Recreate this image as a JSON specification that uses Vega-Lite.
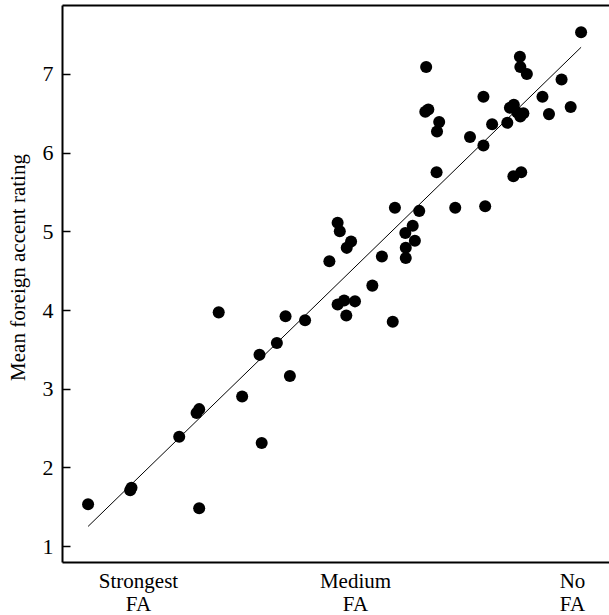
{
  "$schema": "https://vega.github.io/schema/vega-lite/v6.json",
  "width": 547,
  "height": 557,
  "autosize": {"type": "none"},
  "padding": {"left": 62, "top": 5, "right": 0, "bottom": 53},
  "background": "white",
  "config": {
    "view": {"stroke": null},
    "font": "Liberation Serif",
    "axis": {"grid": false, "domainColor": "black", "domainWidth": 2, "tickColor": "black", "labelColor": "black", "titleColor": "black", "labelFont": "Liberation Serif", "titleFont": "Liberation Serif"}
  },
  "data": {"values": [
    {"fa": -1.15, "rating": 1.53}, {"fa": -0.18, "rating": 1.71}, {"fa": -0.15, "rating": 1.74},
    {"fa": 1.41, "rating": 1.48}, {"fa": 0.95, "rating": 2.39}, {"fa": 1.35, "rating": 2.69},
    {"fa": 1.41, "rating": 2.74}, {"fa": 1.86, "rating": 3.97}, {"fa": 2.40, "rating": 2.90},
    {"fa": 2.85, "rating": 2.31}, {"fa": 2.80, "rating": 3.43}, {"fa": 3.20, "rating": 3.58},
    {"fa": 3.40, "rating": 3.92}, {"fa": 3.50, "rating": 3.16}, {"fa": 3.85, "rating": 3.87},
    {"fa": 4.60, "rating": 4.07}, {"fa": 4.75, "rating": 4.12}, {"fa": 5.00, "rating": 4.11},
    {"fa": 4.80, "rating": 3.93}, {"fa": 5.40, "rating": 4.31}, {"fa": 4.41, "rating": 4.62},
    {"fa": 5.87, "rating": 3.85}, {"fa": 4.60, "rating": 5.11}, {"fa": 4.65, "rating": 5.00},
    {"fa": 4.91, "rating": 4.87}, {"fa": 4.81, "rating": 4.79}, {"fa": 5.62, "rating": 4.68},
    {"fa": 5.92, "rating": 5.30}, {"fa": 6.48, "rating": 5.26}, {"fa": 6.33, "rating": 5.07},
    {"fa": 6.16, "rating": 4.98}, {"fa": 6.38, "rating": 4.88}, {"fa": 6.17, "rating": 4.79},
    {"fa": 6.17, "rating": 4.66}, {"fa": 7.31, "rating": 5.30}, {"fa": 8.00, "rating": 5.32},
    {"fa": 6.88, "rating": 5.75}, {"fa": 8.65, "rating": 5.70}, {"fa": 8.83, "rating": 5.75},
    {"fa": 7.65, "rating": 6.20}, {"fa": 7.96, "rating": 6.09}, {"fa": 6.89, "rating": 6.27},
    {"fa": 6.94, "rating": 6.39}, {"fa": 6.69, "rating": 6.55}, {"fa": 6.62, "rating": 6.52},
    {"fa": 8.16, "rating": 6.36}, {"fa": 8.51, "rating": 6.38}, {"fa": 6.64, "rating": 7.09},
    {"fa": 7.96, "rating": 6.71}, {"fa": 8.57, "rating": 6.57}, {"fa": 8.66, "rating": 6.61},
    {"fa": 8.74, "rating": 6.51}, {"fa": 8.88, "rating": 6.50}, {"fa": 8.81, "rating": 6.46},
    {"fa": 9.32, "rating": 6.71}, {"fa": 9.47, "rating": 6.49}, {"fa": 9.97, "rating": 6.58},
    {"fa": 9.76, "rating": 6.93}, {"fa": 8.80, "rating": 7.22}, {"fa": 8.81, "rating": 7.09},
    {"fa": 8.96, "rating": 7.00}, {"fa": 10.21, "rating": 7.53}
  ]},
  "layer": [
    {
      "mark": {"type": "circle", "size": 145, "opacity": 1, "color": "black"},
      "encoding": {
        "x": {
          "field": "fa", "type": "quantitative",
          "scale": {"domain": [-1.751, 10.853], "nice": false, "zero": false},
          "axis": {
            "orient": "bottom", "title": null, "values": [0, 5, 10], "ticks": false,
            "labelExpr": "datum.value == 0 ? ['Strongest', 'FA'] : datum.value == 5 ? ['Medium', 'FA'] : ['No', 'FA']",
            "labelFontSize": 21, "labelLineHeight": 23, "labelPadding": 8, "labelFlush": false, "labelOverlap": false, "labelAlign": "center", "labelBaseline": "top"
          }
        },
        "y": {
          "field": "rating", "type": "quantitative",
          "scale": {"domain": [0.797, 7.877], "nice": false, "zero": false},
          "axis": {
            "values": [1, 2, 3, 4, 5, 6, 7], "tickSize": -8, "tickWidth": 1.5,
            "labelFontSize": 22, "labelPadding": 17, "format": "d",
            "title": "Mean foreign accent rating", "titleFontSize": 21, "titleFontWeight": "normal",
            "titleX": -38, "titleY": 262, "titleBaseline": "alphabetic", "titleAlign": "center", "titleAngle": 270
          }
        }
      }
    },
    {
      "transform": [{"regression": "rating", "on": "fa"}],
      "mark": {"type": "line", "color": "black", "strokeWidth": 1},
      "encoding": {
        "x": {"field": "fa", "type": "quantitative", "axis": {"orient": "top", "title": null, "labels": false, "ticks": false, "domain": true}},
        "y": {"field": "rating", "type": "quantitative"}
      }
    }
  ],
  "resolve": {"axis": {"x": "independent"}}
}
